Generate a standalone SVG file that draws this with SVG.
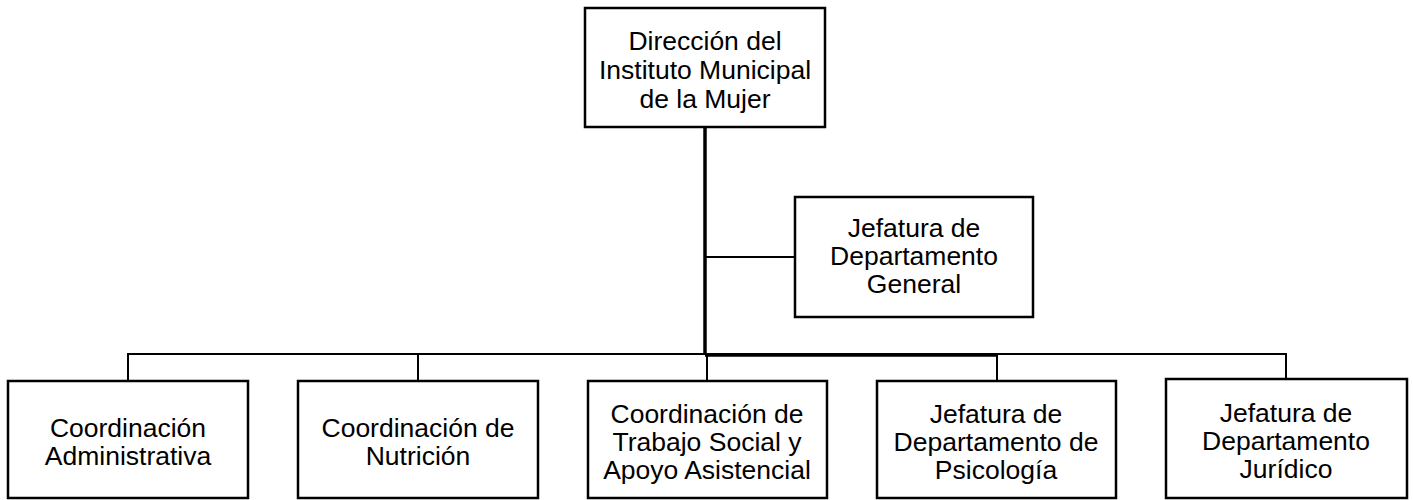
<svg xmlns="http://www.w3.org/2000/svg" width="1413" height="500" viewBox="0 0 1413 500">
<style>
.box{fill:#fff;stroke:#000;stroke-width:2.5}
.t{font-family:"Liberation Sans",Arial,sans-serif;font-size:26.5px;fill:#000;text-anchor:middle}
.c{stroke:#000;stroke-width:2;fill:none}
.ck{stroke:#000;stroke-width:3.5;fill:none}
</style>
<rect width="1413" height="500" fill="#fff"/>
<g id="connectors">
<line class="ck" x1="705" y1="127" x2="705" y2="355"/>
<line class="c" x1="705" y1="257" x2="795" y2="257"/>
<polyline class="c" points="128,381 128,354 1286,354 1286,379"/>
<line class="ck" x1="705" y1="355" x2="997" y2="355"/>
<line class="c" x1="418" y1="354" x2="418" y2="381"/>
<line class="c" x1="707" y1="354" x2="707" y2="381"/>
<line class="c" x1="997" y1="354" x2="997" y2="381"/>
</g>
<g id="direccion">
<rect class="box" x="585" y="8" width="240" height="119"/>
<text class="t" x="705" y="50">Dirección del</text>
<text class="t" x="705" y="79">Instituto Municipal</text>
<text class="t" x="705" y="108">de la Mujer</text>
</g>
<g id="jefatura-general">
<rect class="box" x="795" y="197" width="238" height="120"/>
<text class="t" x="914" y="237">Jefatura de</text>
<text class="t" x="914" y="265">Departamento</text>
<text class="t" x="914" y="293">General</text>
</g>
<g id="coord-admin">
<rect class="box" x="8" y="381" width="240" height="117"/>
<text class="t" x="128" y="437">Coordinación</text>
<text class="t" x="128" y="465">Administrativa</text>
</g>
<g id="coord-nutricion">
<rect class="box" x="298" y="381" width="240" height="117"/>
<text class="t" x="418" y="437">Coordinación de</text>
<text class="t" x="418" y="465">Nutrición</text>
</g>
<g id="coord-trabajo-social">
<rect class="box" x="588" y="381" width="239" height="117"/>
<text class="t" x="707" y="423">Coordinación de</text>
<text class="t" x="707" y="451">Trabajo Social y</text>
<text class="t" x="707" y="479">Apoyo Asistencial</text>
</g>
<g id="jefatura-psicologia">
<rect class="box" x="877" y="381" width="239" height="117"/>
<text class="t" x="996" y="423">Jefatura de</text>
<text class="t" x="996" y="451">Departamento de</text>
<text class="t" x="996" y="479">Psicología</text>
</g>
<g id="jefatura-juridico">
<rect class="box" x="1166" y="379" width="241" height="119"/>
<text class="t" x="1286" y="422">Jefatura de</text>
<text class="t" x="1286" y="450">Departamento</text>
<text class="t" x="1286" y="478">Jurídico</text>
</g>
</svg>
